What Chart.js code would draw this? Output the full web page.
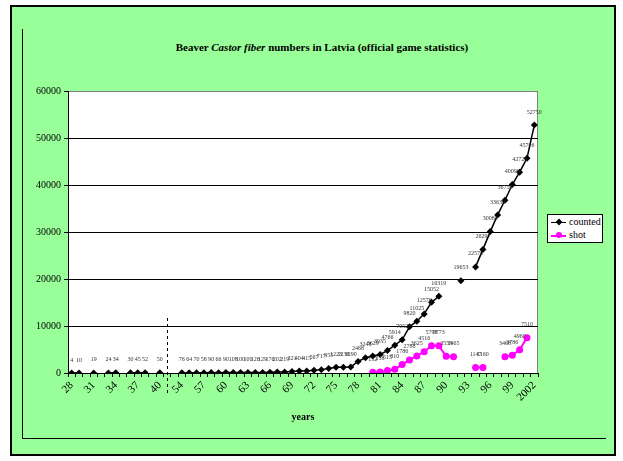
<!DOCTYPE html>
<html>
<head>
<meta charset="utf-8">
<script src="https://cdn.jsdelivr.net/npm/chart.js@4"></script>
<style>
  body { margin: 0; background: #fff; width: 623px; height: 461px; overflow: hidden; font-family: "Liberation Serif", serif; }
  #frame { position: absolute; left: 10px; top: 5px; width: 602px; height: 447px; background: #99FF99; border: 2px solid #000; }
  #inner { position: absolute; left: 22px; top: 29px; width: 583px; height: 409px; border-left: 1px solid #000; border-bottom: 1px solid #000; }
  #title { position: absolute; left: 22px; width: 600px; top: 41px; text-align: center; font-weight: bold; font-size: 11px; font-family: "Liberation Serif", serif; }
  #chart { position: absolute; left: 0; top: 0; }
  #legend { position: absolute; left: 547px; top: 214px; width: 54px; height: 27px; background: #fff; border: 1px solid #000; font-size: 10px; font-family: "Liberation Serif", serif; }
  .row { position: absolute; left: 3px; height: 12px; }
  .row .ln { position: absolute; left: 0; top: 6px; width: 15px; height: 0; }
  .row .mk { position: absolute; left: 5px; top: 3px; width: 6px; height: 6px; }
  .row span.t { position: absolute; left: 18px; top: 0; line-height: 12px; white-space: nowrap; font-family: "Liberation Serif", serif; }
</style>
</head>
<body>
<div id="frame"></div>
<div id="inner"></div>
<div id="title">Beaver <i>Castor fiber</i> numbers in Latvia (official game statistics)</div>
<canvas id="chart" width="623" height="461"></canvas>
<div id="legend">
  <div class="row" style="top:1px"><div class="ln" style="border-top:1.5px solid #000"></div><div class="mk" style="background:#000;transform:rotate(45deg) scale(0.8)"></div><span class="t">counted</span></div>
  <div class="row" style="top:14px"><div class="ln" style="border-top:2px solid #FF00FF"></div><div class="mk" style="background:#FF00FF;border-radius:50%"></div><span class="t">shot</span></div>
</div>
<script>
// years on the category axis (two unlabeled slots mark the 1941-1953 break)
const years = [
  '28', '29', '30', '31', '32', '33', '34', '35', '36', '37', '38', '39', '40',
  '41', '53',
  '54', '55', '56', '57', '58', '59', '60', '61', '62', '63', '64', '65', '66', '67', '68', '69',
  '70', '71', '72', '73', '74', '75', '76', '77', '78', '79', '80', '81', '82', '83', '84', '85',
  '86', '87', '88', '89', '90', '91', '92', '93', '94', '95', '96', '97', '98', '99',
  '2000', '2001', '2002'
];

const counted = [
  4, 10, null, 19, null, 24, 34, null, 30, 45, 52, null, 50,
  null, null,
  76, 64, 70, 58, 90, 66, 90, 108, 100, 100, 126, 129, 176, 202, 219, 321,
  404, 415, 567, 717, 955, 1223, 1238, 1290, 2468, 3248, 3629, 3935, 4766, 5914, 7052, 9820,
  11025, 12576, 15052, 16319, null, null, 19653, null, 22575, 26297, 30082, 33630, 36750, 40096,
  42726, 45706, 52750
];

const shot = [
  null, null, null, null, null, null, null, null, null, null, null, null, null,
  null, null,
  null, null, null, null, null, null, null, null, null, null, null, null, null, null, null, null,
  null, null, null, null, null, null, null, null, null, null, 152, 238, 515, 810, 1786, 2788,
  3625, 4516, 5798, 5773, 3553, 3465, null, null, 1147, 1160, null, null, 3468, 3786,
  4960, 7510, null
];

const yTicks = [0, 10000, 20000, 30000, 40000, 50000, 60000];
const breakIndex = 13; // dashed line between the pre-war and post-war series

// white plot area with grey top/right edge
const plotBackground = {
    id: 'plotBackground',
    beforeDraw(chart) {
        const a = chart.chartArea;
        const ctx = chart.ctx;
        ctx.save();
        ctx.fillStyle = '#fff';
        ctx.fillRect(a.left, a.top, a.right - a.left, a.bottom - a.top);
        ctx.strokeStyle = '#808080';
        ctx.lineWidth = 1;
        ctx.beginPath();
        ctx.moveTo(a.left, a.top + 0.5);
        ctx.lineTo(a.right - 0.5, a.top + 0.5);
        ctx.lineTo(a.right - 0.5, a.bottom);
        ctx.stroke();
        ctx.restore();
    }
};

// value labels above the points + the dashed break line
const valueLabels = {
    id: 'valueLabels',
    afterDatasetsDraw(chart) {
        const ctx = chart.ctx;
        ctx.save();
        ctx.font = '6px "Liberation Serif"';
        ctx.fillStyle = '#333';
        ctx.textAlign = 'center';
        ctx.textBaseline = 'middle';
        chart.data.datasets.forEach((ds, i) => {
            chart.getDatasetMeta(i).data.forEach((pt, j) => {
                if (ds.data[j] == null) return;
                ctx.fillText(String(ds.data[j]), pt.x, pt.y - 13);
            });
        });

        const x = Math.round(chart.scales.x.getPixelForValue(breakIndex)) + 0.5;
        ctx.strokeStyle = '#000';
        ctx.lineWidth = 1;
        ctx.setLineDash([3, 3]);
        ctx.beginPath();
        ctx.moveTo(x, chart.scales.y.getPixelForValue(11700));
        ctx.lineTo(x, chart.chartArea.bottom + 22);
        ctx.stroke();
        ctx.restore();
    }
};

const ctx = document.getElementById('chart').getContext('2d');
new Chart(ctx, {
    type: 'line',
    data: {
        labels: years,
        datasets: [
            {
                label: 'counted',
                data: counted,
                borderColor: '#000',
                backgroundColor: '#000',
                borderWidth: 1.5,
                pointStyle: 'rectRot',
                pointRadius: 3.5,
                pointBorderWidth: 0,
                tension: 0,
            },
            {
                label: 'shot',
                data: shot,
                borderColor: '#FF00FF',
                backgroundColor: '#FF00FF',
                borderWidth: 2,
                pointStyle: 'circle',
                pointRadius: 3.5,
                pointBorderWidth: 0,
                tension: 0,
            },
        ],
    },
    options: {
        responsive: false,
        animation: false,
        layout: {
            padding: { left: 0, top: 91, right: 85, bottom: 36 },
        },
        plugins: {
            legend: { display: false },
            tooltip: { enabled: false },
        },
        scales: {
            x: {
                offset: true,
                afterFit: (scale) => { scale.height = 52; },
                grid: {
                    offset: true,
                    drawOnChartArea: false,
                    drawTicks: true,
                    tickLength: 4,
                    tickColor: '#000',
                },
                border: { color: '#000', width: 1 },
                ticks: {
                    autoSkip: false,
                    minRotation: 45,
                    maxRotation: 45,
                    padding: 2,
                    color: '#000',
                    font: { family: 'Liberation Serif', size: 11 },
                    callback: function (value, index) {
                        return index % 3 === 0 ? years[index] : '';
                    },
                },
                title: {
                    display: true,
                    text: 'years',
                    color: '#000',
                    font: { family: 'Liberation Serif', size: 10, weight: 'bold' },
                    padding: { top: 0, bottom: 2 },
                },
            },
            y: {
                min: 0,
                max: 60000,
                afterFit: (scale) => { scale.width = 68; },
                afterBuildTicks: (scale) => { scale.ticks = yTicks.map(v => ({ value: v })); },
                grid: {
                    color: (c) => (c.tick && c.tick.value === 60000 ? '#808080' : '#000'),
                    tickColor: '#000',
                    tickLength: 4,
                },
                border: { color: '#000', width: 1 },
                ticks: {
                    padding: 3,
                    color: '#000',
                    font: { family: 'Liberation Serif', size: 10 },
                    callback: (value) => String(value),
                },
            },
        },
    },
    plugins: [plotBackground, valueLabels],
});
</script>
</body>
</html>
